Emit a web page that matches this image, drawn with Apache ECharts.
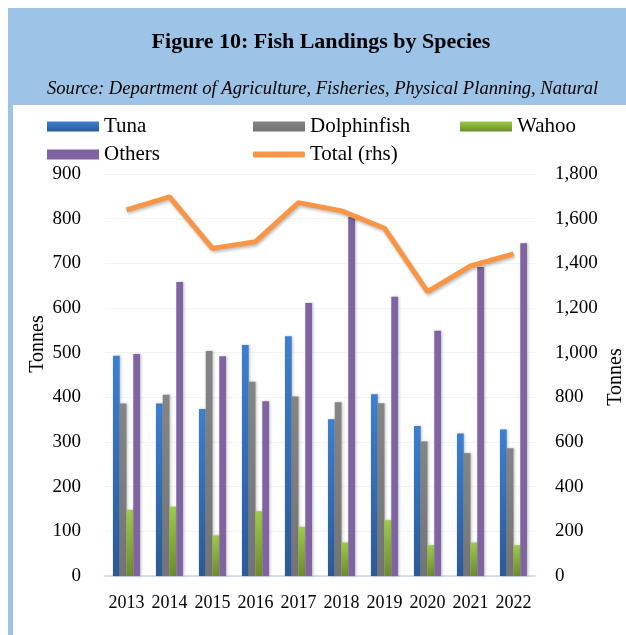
<!DOCTYPE html>
<html>
<head>
<meta charset="utf-8">
<script src="https://cdn.jsdelivr.net/npm/echarts@6/dist/echarts.min.js"></script>
<style>
  html, body { margin: 0; padding: 0; background: #fff; }
  #chart { width: 626px; height: 635px; }
</style>
</head>
<body>
<div id="chart"></div>
<script>
// 年份
var years = ['2013', '2014', '2015', '2016', '2017', '2018', '2019', '2020', '2021', '2022'];

// 各鱼种上岸量 (tonnes)
var tuna = [493, 386, 374, 517, 537, 351, 407, 336, 319, 328];
var dolphinfish = [386, 406, 504, 435, 402, 389, 387, 301, 275, 286];
var wahoo = [148, 155, 91, 145, 110, 75, 125, 69, 75, 69];
var others = [497, 658, 492, 391, 611, 804, 625, 549, 692, 745];

// 合计 (右轴)
var total = [1639, 1698, 1467, 1497, 1672, 1635, 1557, 1273, 1388, 1442];

var leftTicks = { min: 0, max: 900, interval: 100 };
var rightTicks = { min: 0, max: 1800, interval: 200 };

var serif = '"Liberation Serif", "DejaVu Serif", serif';

function grad(top, bottom) {
    return new echarts.graphic.LinearGradient(0, 0, 0, 1, [
        { offset: 0, color: top },
        { offset: 1, color: bottom }
    ]);
}

var barShadow = {
    shadowBlur: 3,
    shadowColor: 'rgba(0,0,0,0.25)',
    shadowOffsetX: 1,
    shadowOffsetY: 0
};

function barSeries(name, data, color) {
    return {
        name: name,
        type: 'bar',
        data: data,
        barGap: '0%',
        barCategoryGap: '37%',
        itemStyle: Object.assign({ color: color }, barShadow)
    };
}

function legendAt(name, left, top, icon, h) {
    return {
        data: [name],
        left: left,
        top: top,
        icon: icon,
        itemWidth: 52,
        itemHeight: h,
        itemGap: 6,
        textStyle: { fontFamily: serif, fontSize: 21, color: '#000' },
        selectedMode: false
    };
}

var myChart = echarts.init(document.getElementById('chart'));

myChart.setOption({
    animation: false,
    textStyle: { fontFamily: serif },
    graphic: [
        // 标题背景带
        { type: 'rect', left: 8, top: 8, shape: { width: 618, height: 97 }, style: { fill: '#9dc3e6' }, z: -1 },
        { type: 'rect', left: 8, top: 105, shape: { width: 5, height: 530 }, style: { fill: '#9dc3e6' }, z: -1 },
        {
            type: 'text', x: 321, y: 42,
            style: { text: 'Figure 10: Fish Landings by Species', font: 'bold 22px ' + serif, fill: '#000', align: 'center', verticalAlign: 'middle' }
        },
        {
            type: 'text', x: 47, y: 89,
            style: { text: 'Source: Department of Agriculture, Fisheries, Physical Planning, Natural', font: 'italic 18.6px ' + serif, fill: '#000', verticalAlign: 'middle' }
        },
        {
            type: 'text', x: 38, y: 344, rotation: Math.PI / 2,
            style: { text: 'Tonnes', font: '20px ' + serif, fill: '#000', align: 'center', verticalAlign: 'middle' }
        },
        {
            type: 'text', x: 616, y: 377, rotation: Math.PI / 2,
            style: { text: 'Tonnes', font: '20px ' + serif, fill: '#000', align: 'center', verticalAlign: 'middle' }
        }
    ],
    legend: [
        legendAt('Tuna', 42, 111, 'rect', 10),
        legendAt('Dolphinfish', 248, 111, 'rect', 10),
        legendAt('Wahoo', 455, 111, 'rect', 10),
        legendAt('Others', 42, 139, 'rect', 10),
        legendAt('Total (rhs)', 248, 139, 'roundRect', 6)
    ],
    grid: {
        left: 105,
        right: 91,
        top: 174,
        bottom: 59,
        containLabel: false
    },
    xAxis: [
        {
            type: 'category',
            data: years,
            axisTick: { show: false },
            axisLine: { lineStyle: { color: '#c9d7ea', width: 1.5 } },
            axisLabel: { color: '#000', fontSize: 18, margin: 18, fontFamily: serif, interval: 0, hideOverlap: false }
        }
    ],
    yAxis: [
        {
            type: 'value',
            min: leftTicks.min,
            max: leftTicks.max,
            interval: leftTicks.interval,
            axisLine: { show: false },
            axisTick: { show: false },
            splitLine: { lineStyle: { color: '#f3f3f3' } },
            axisLabel: { color: '#000', fontSize: 19, margin: 24, fontFamily: serif }
        },
        {
            type: 'value',
            min: rightTicks.min,
            max: rightTicks.max,
            interval: rightTicks.interval,
            axisLine: { show: false },
            axisTick: { show: false },
            splitLine: { show: false },
            axisLabel: {
                color: '#000', fontSize: 19, margin: 20, fontFamily: serif,
                formatter: function (v) { return v.toLocaleString('en-US'); }
            }
        }
    ],
    series: [
        barSeries('Tuna', tuna, grad('#3d7fd0', '#2c5a95')),
        barSeries('Dolphinfish', dolphinfish, grad('#858585', '#747474')),
        barSeries('Wahoo', wahoo, grad('#9dcb48', '#6c8b2c')),
        barSeries('Others', others, '#8064a2'),
        {
            name: 'Total (rhs)',
            type: 'line',
            yAxisIndex: 1,
            data: total,
            symbol: 'none',
            z: 5,
            itemStyle: { color: '#f79646' },
            lineStyle: {
                color: '#f79646',
                width: 5,
                shadowBlur: 3,
                shadowColor: 'rgba(0,0,0,0.25)',
                shadowOffsetX: 1,
                shadowOffsetY: 2
            }
        }
    ]
});
</script>
</body>
</html>
